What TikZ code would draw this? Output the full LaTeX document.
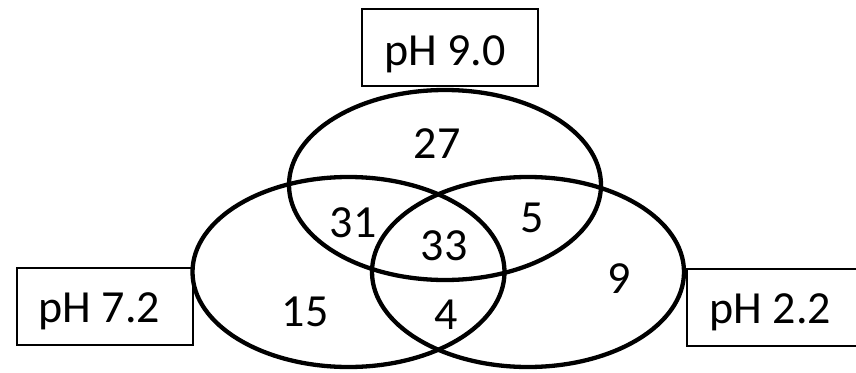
\documentclass[tikz,border=0pt]{standalone}
\usepackage{fontspec}
\setmainfont{Carlito}
\usetikzlibrary{shapes.geometric}
\tikzset{
  setring/.style={draw, ellipse, line width=4.3pt, inner sep=0pt,
    minimum width=312pt, minimum height=190pt},
  phbox/.style={draw, line width=1.6pt, inner sep=0pt,
    minimum width=176pt, minimum height=77pt},
  txt/.style={anchor=base, inner sep=0pt,
    font=\fontsize{46}{50}\selectfont}
}
\begin{document}
\begin{tikzpicture}[x=1pt,y=-1pt]
  \useasboundingbox (0,0) rectangle (856,372);
  \clip (0,0) rectangle (856,372);
  \fill[white] (0,0) rectangle (856,372);

  % condition labels
  \node[phbox] (b90) at (450,47.5) {};
  \node[phbox] (b72) at (105,306.5) {};
  \node[phbox] (b22) at (775,307.5) {};
  \node[txt] (t90) at (445,65) {pH 9.0};
  \node[txt] (t72) at (99.5,322) {pH 7.2};
  \node[txt] (t22) at (770.5,323) {pH 2.2};

  % the three sets
  \node[setring] (s90) at (445,185) {};
  \node[setring] (s72) at (348.5,272) {};
  \node[setring] (s22) at (528,272) {};

  % region counts
  \node[txt] (n27) at (437,158.5) {27};
  \node[txt] (n31) at (353,237) {31};
  \node[txt] (n33) at (444,260.5) {33};
  \node[txt] (n5)  at (532,232) {5};
  \node[txt] (n9)  at (619,293) {9};
  \node[txt] (n15) at (305,326) {15};
  \node[txt] (n4)  at (446.5,329) {4};
\end{tikzpicture}
\end{document}
